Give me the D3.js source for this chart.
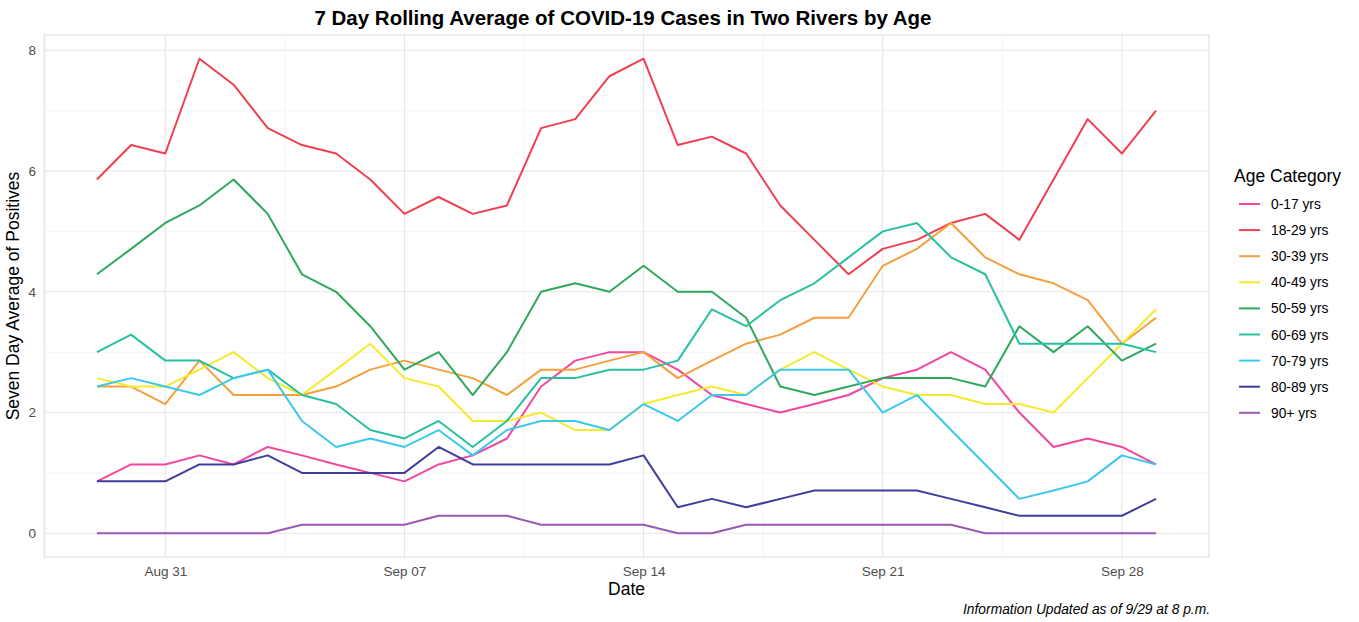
<!DOCTYPE html>
<html>
<head>
<meta charset="utf-8">
<script src="https://cdn.jsdelivr.net/npm/d3@7"></script>
<style>
  body { margin: 0; background: #fff; }
  svg { display: block; font-family: "Liberation Sans", Arial, Helvetica, sans-serif; }
</style>
</head>
<body>
<svg id="chart" width="1359" height="622"></svg>
<script>
// ---- data (values are 7-day averages) ----
const startDate = "2020-08-29";
const ageCategories = ["0-17 yrs","18-29 yrs","30-39 yrs","40-49 yrs","50-59 yrs","60-69 yrs","70-79 yrs","80-89 yrs","90+ yrs"];
const seriesColors = ["#F2479C","#EF3F50","#F6A03D","#F4EB2E","#2FA85E","#27C0A0","#3CC8EC","#3F3D9E","#9B58B0"];

const age0_17  = [0.86,1.14,1.14,1.29,1.14,1.43,1.29,1.14,1.0,0.86,1.14,1.29,1.57,2.43,2.86,3.0,3.0,2.71,2.29,2.14,2.0,2.14,2.29,2.57,2.71,3.0,2.71,2.0,1.43,1.57,1.43,1.14];
const age18_29 = [5.86,6.43,6.29,7.86,7.43,6.71,6.43,6.29,5.86,5.29,5.57,5.29,5.43,6.71,6.86,7.57,7.86,6.43,6.57,6.29,5.43,4.86,4.29,4.71,4.86,5.14,5.29,4.86,5.86,6.86,6.29,7.0];
const age30_39 = [2.43,2.43,2.14,2.86,2.29,2.29,2.29,2.43,2.71,2.86,2.71,2.57,2.29,2.71,2.71,2.86,3.0,2.57,2.86,3.14,3.29,3.57,3.57,4.43,4.71,5.14,4.57,4.29,4.14,3.86,3.14,3.57];
const age40_49 = [2.57,2.43,2.43,2.71,3.0,2.57,2.29,2.71,3.14,2.57,2.43,1.86,1.86,2.0,1.71,1.71,2.14,2.29,2.43,2.29,2.71,3.0,2.71,2.43,2.29,2.29,2.14,2.14,2.0,2.57,3.14,3.71];
const age50_59 = [4.29,4.71,5.14,5.43,5.86,5.29,4.29,4.0,3.43,2.71,3.0,2.29,3.0,4.0,4.14,4.0,4.43,4.0,4.0,3.57,2.43,2.29,2.43,2.57,2.57,2.57,2.43,3.43,3.0,3.43,2.86,3.14];
const age60_69 = [3.0,3.29,2.86,2.86,2.57,2.71,2.29,2.14,1.71,1.57,1.86,1.43,1.86,2.57,2.57,2.71,2.71,2.86,3.71,3.43,3.86,4.14,4.57,5.0,5.14,4.57,4.29,3.14,3.14,3.14,3.14,3.0];
const age70_79 = [2.43,2.57,2.43,2.29,2.57,2.71,1.86,1.43,1.57,1.43,1.71,1.29,1.71,1.86,1.86,1.71,2.14,1.86,2.29,2.29,2.71,2.71,2.71,2.0,2.29,1.71,1.14,0.57,0.71,0.86,1.29,1.14];
const age80_89 = [0.86,0.86,0.86,1.14,1.14,1.29,1.0,1.0,1.0,1.0,1.43,1.14,1.14,1.14,1.14,1.14,1.29,0.43,0.57,0.43,0.57,0.71,0.71,0.71,0.71,0.57,0.43,0.29,0.29,0.29,0.29,0.57];
const age90p   = [0,0,0,0,0,0,0.14,0.14,0.14,0.14,0.29,0.29,0.29,0.14,0.14,0.14,0.14,0,0,0.14,0.14,0.14,0.14,0.14,0.14,0.14,0,0,0,0,0,0];

const yTicks = [0,2,4,6,8];
const xTickDates = ["2020-08-31","2020-09-07","2020-09-14","2020-09-21","2020-09-28"];

const titleText = "7 Day Rolling Average of COVID-19 Cases in Two Rivers by Age";
const yTitle = "Seven Day Average of Positives";
const xTitle = "Date";
const legendTitle = "Age Category";
const captionText = "Information Updated as of 9/29 at 8 p.m.";

// ---- build ----
const allSeries = [age0_17, age18_29, age30_39, age40_49, age50_59, age60_69, age70_79, age80_89, age90p];
const parse = d3.utcParse("%Y-%m-%d");
const t0 = parse(startDate);
const dayMs = 86400000;
const dates = d3.range(age0_17.length).map(i => new Date(t0.getTime() + i * dayMs));

const panel = { left: 44, right: 1209, top: 35, bottom: 557 };

const svg = d3.select("#chart");

const nDays = dates.length - 1;
const xPad = nDays * 0.05 * dayMs;
const x = d3.scaleUtc()
  .domain([new Date(dates[0].getTime() - xPad), new Date(dates[nDays].getTime() + xPad)])
  .range([panel.left, panel.right]);

const yMax = d3.max(allSeries, s => d3.max(s));
const yPad = yMax * 0.05;
const y = d3.scaleLinear().domain([-yPad, yMax + yPad]).range([panel.bottom, panel.top]);

// panel border
svg.append("rect")
  .attr("x", panel.left).attr("y", panel.top)
  .attr("width", panel.right - panel.left).attr("height", panel.bottom - panel.top)
  .attr("fill", "none").attr("stroke", "#dedede").attr("stroke-width", 1.1);

// minor grid
const gGrid = svg.append("g");
const minorY = d3.range(1, 8, 2);
gGrid.selectAll(".my").data(minorY).join("line")
  .attr("x1", panel.left).attr("x2", panel.right)
  .attr("y1", d => y(d)).attr("y2", d => y(d))
  .attr("stroke", "#f1f1f1").attr("stroke-width", 0.8);
const xTicks = xTickDates.map(parse);
const minorX = [];
for (let i = -1; i < xTicks.length; i++) {
  const base = i < 0 ? xTicks[0].getTime() - 7 * dayMs : xTicks[i].getTime();
  minorX.push(new Date(base + 3.5 * dayMs));
}
gGrid.selectAll(".mx").data(minorX.filter(d => x(d) > panel.left && x(d) < panel.right)).join("line")
  .attr("y1", panel.top).attr("y2", panel.bottom)
  .attr("x1", d => x(d)).attr("x2", d => x(d))
  .attr("stroke", "#f1f1f1").attr("stroke-width", 0.8);

// major grid
gGrid.selectAll(".gy").data(yTicks).join("line")
  .attr("x1", panel.left).attr("x2", panel.right)
  .attr("y1", d => y(d)).attr("y2", d => y(d))
  .attr("stroke", "#e6e6e6").attr("stroke-width", 1.1);
gGrid.selectAll(".gx").data(xTicks).join("line")
  .attr("y1", panel.top).attr("y2", panel.bottom)
  .attr("x1", d => x(d)).attr("x2", d => x(d))
  .attr("stroke", "#e6e6e6").attr("stroke-width", 1.1);

// axes (labels only)
const yAxis = d3.axisLeft(y).tickValues(yTicks).tickSize(0).tickPadding(8).tickFormat(d3.format("d"));
const gy = svg.append("g").attr("transform", `translate(${panel.left},0)`).call(yAxis);
gy.select(".domain").remove();
gy.selectAll("text").attr("fill", "#4d4d4d").style("font-size", "13.5px");

const xAxis = d3.axisBottom(x).tickValues(xTicks).tickSize(0).tickPadding(9).tickFormat(d3.utcFormat("%b %d"));
const gx = svg.append("g").attr("transform", `translate(0,${panel.bottom})`).call(xAxis);
gx.select(".domain").remove();
gx.selectAll("text").attr("fill", "#4d4d4d").style("font-size", "13.5px");

// lines
const line = d3.line().x((d, i) => x(dates[i])).y(d => y(d));
svg.append("g").selectAll("path").data(allSeries).join("path")
  .attr("d", d => line(d))
  .attr("fill", "none")
  .attr("stroke", (d, i) => seriesColors[i])
  .attr("stroke-width", 2)
  .attr("stroke-linejoin", "round");

// titles
svg.append("text").attr("x", 623).attr("y", 25).attr("text-anchor", "middle")
  .style("font-size", "20.5px").style("font-weight", "bold").attr("fill", "#000").text(titleText);
svg.append("text").attr("transform", `translate(19,${(panel.top + panel.bottom) / 2}) rotate(-90)`)
  .attr("text-anchor", "middle").style("font-size", "17.5px").attr("fill", "#000").text(yTitle);
svg.append("text").attr("x", (panel.left + panel.right) / 2).attr("y", 595).attr("text-anchor", "middle")
  .style("font-size", "17.5px").attr("fill", "#000").text(xTitle);
svg.append("text").attr("x", 1210).attr("y", 614).attr("text-anchor", "end")
  .style("font-size", "13.8px").style("font-style", "italic").attr("fill", "#000").text(captionText);

// legend
const lg = svg.append("g").attr("transform", "translate(1234,0)");
lg.append("text").attr("x", 0).attr("y", 182).style("font-size", "17.5px").attr("fill", "#000").text(legendTitle);
const items = lg.selectAll(".it").data(ageCategories).join("g")
  .attr("transform", (d, i) => `translate(0,${204 + i * 26.1})`);
items.append("line").attr("x1", 5).attr("x2", 26).attr("y1", 0).attr("y2", 0)
  .attr("stroke", (d, i) => seriesColors[i]).attr("stroke-width", 2);
items.append("text").attr("x", 37).attr("y", 5).style("font-size", "13.8px").attr("fill", "#000").text(d => d);
</script>
</body>
</html>
